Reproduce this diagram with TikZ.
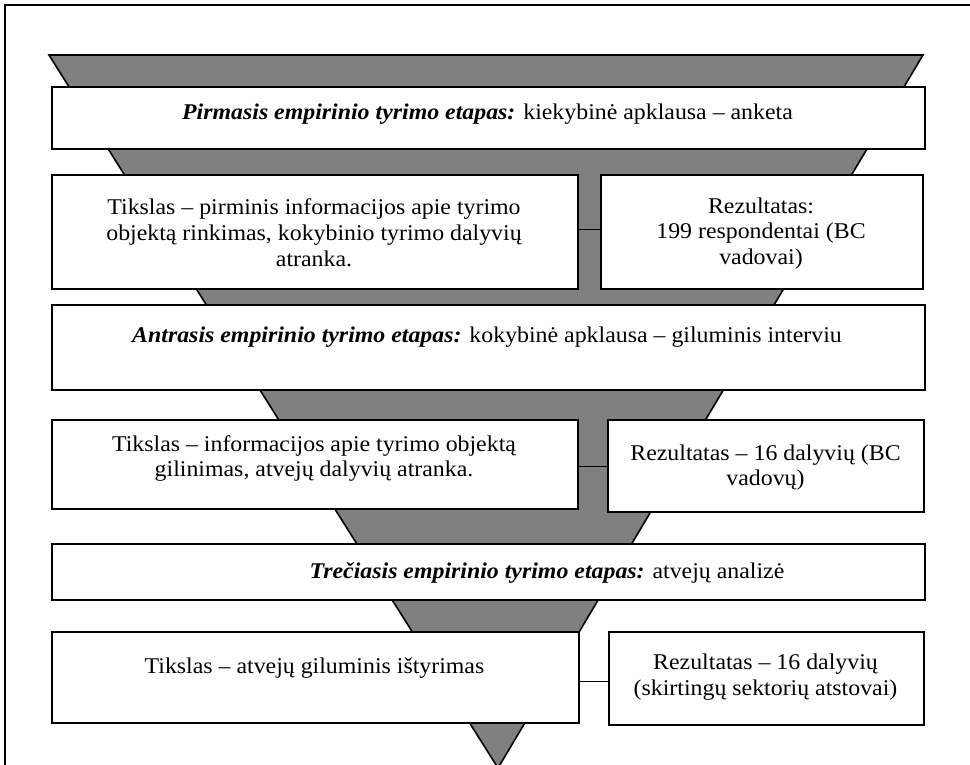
\documentclass[tikz,border=0pt]{standalone}
\usepackage{fontspec}
\setmainfont{Liberation Serif}[FakeStretch=1.06]
\begin{document}
\begin{tikzpicture}[x=1pt,y=-1pt,
  box/.style={draw=black, line width=2pt, fill=white, inner sep=0pt, anchor=north west},
  txt/.style={font=\fontsize{22.5}{25.8}\selectfont, align=center, inner sep=0pt},
  funnel/.style={draw=black, line width=1.6pt, fill=gray50},
  conn/.style={draw=black, line width=1pt},
  frame/.style={draw=black, line width=2pt}]
\definecolor{gray50}{HTML}{808080}
\useasboundingbox (0,0) rectangle (970,765);
% outer frame
\draw[frame] (5,780) -- (5,5) -- (985,5);
% funnel
\draw[funnel] (49,55) -- (923,55) -- (498,768) -- cycle;
% boxes
\node[box, minimum width=873pt, minimum height=62pt] (b1) at (51,86) {};
\node[box, minimum width=526pt, minimum height=114pt] (b2a) at (51,174) {};
\node[box, minimum width=322pt, minimum height=114pt] (b2b) at (600,174) {};
\node[box, minimum width=873pt, minimum height=85pt] (b3) at (51,304) {};
\node[box, minimum width=526pt, minimum height=89pt] (b4a) at (51,419) {};
\node[box, minimum width=316pt, minimum height=92pt] (b4b) at (607,419) {};
\node[box, minimum width=873pt, minimum height=56pt] (b5) at (51,543) {};
\node[box, minimum width=527pt, minimum height=91pt] (b6a) at (51,631) {};
\node[box, minimum width=315pt, minimum height=93pt] (b6b) at (608,631) {};
% connectors
\coordinate (c2) at (577,229);
\coordinate (c4) at (577,466);
\coordinate (c6) at (578,681);
\draw[conn] (b2a.east |- c2) -- (b2b.west |- c2);
\draw[conn] (b4a.east |- c4) -- (b4b.west |- c4);
\draw[conn] (b6a.east |- c6) -- (b6b.west |- c6);
% texts
\node[txt, anchor=base] (t1) at (487.5,120) {\textbf{\textit{Pirmasis empirinio tyrimo etapas:}} kiekybinė apklausa – anketa};
\node[txt] (t2a) at (314,232.5) {Tikslas – pirminis informacijos apie tyrimo\\objektą rinkimas, kokybinio tyrimo dalyvių\\atranka.};
\node[txt] (t2b) at (761,233.5) {Rezultatas:\\199 respondentai (BC\\vadovai)};
\node[txt, anchor=base] (t3) at (487,342) {\textbf{\textit{Antrasis empirinio tyrimo etapas:}} kokybinė apklausa – giluminis interviu};
\node[txt] (t4a) at (314,458.5) {Tikslas – informacijos apie tyrimo objektą\\gilinimas, atvejų dalyvių atranka.};
\node[txt] (t4b) at (765.5,467.5) {Rezultatas – 16 dalyvių (BC\\vadovų)};
\node[txt, anchor=base] (t5) at (547,578) {\textbf{\textit{Trečiasis empirinio tyrimo etapas:}} atvejų analizė};
\node[txt, anchor=base] (t6a) at (314.5,673) {Tikslas – atvejų giluminis ištyrimas};
\node[txt] (t6b) at (765.5,677) {Rezultatas – 16 dalyvių\\(skirtingų sektorių atstovai)};
\end{tikzpicture}
\end{document}
